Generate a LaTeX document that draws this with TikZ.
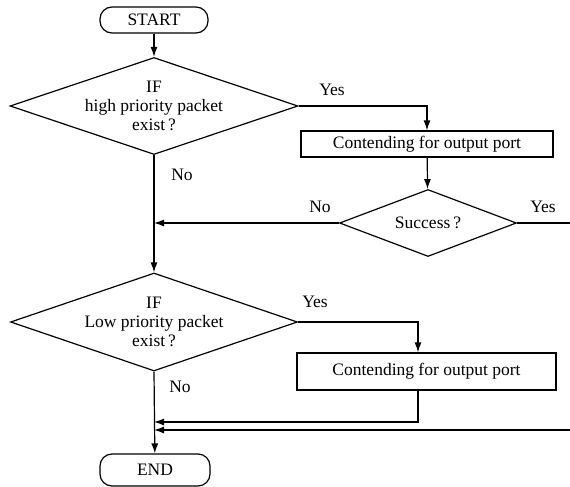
\documentclass[tikz,border=0pt]{standalone}
\usepackage{fontspec}
\setmainfont{Liberation Serif}
\usetikzlibrary{shapes.geometric,arrows.meta}

\begin{document}
\begin{tikzpicture}[x=1pt,y=-1pt,line width=1.2pt,
  every node/.style={font=\fontsize{17.5}{19}\selectfont},
  term/.style={rectangle,draw,rounded corners=12pt,minimum width=#1,minimum height=26pt,inner sep=0pt},
  cond/.style 2 args={diamond,draw,minimum width=#1,minimum height=#2,inner sep=0pt},
  proc/.style 2 args={rectangle,draw,minimum width=#1,minimum height=#2,inner sep=0pt},
  flow/.style={-{Latex[length=10pt,width=7pt]}}]
\useasboundingbox (0,0) rectangle (570,487);
\node[term=108pt] (start) at (154,20) {START};
\node[cond={288pt}{97pt},label={[align=center]center:IF\\high priority packet\\exist\,?}] (hiprio) at (154,106) {};
\node[proc={252pt}{26pt}] (contend1) at (427,144) {Contending for output port};
\node[cond={177pt}{67pt},label={center:Success\,?}] (success) at (428,223) {};
\node[cond={287pt}{98pt},label={[align=center]center:IF\\Low priority packet\\exist\,?}] (loprio) at (154,322) {};
\node[proc={259pt}{37pt}] (contend2) at (426.5,371.5) {Contending for output port};
\node[term=110pt,minimum height=32pt] (end) at (155,470) {END};
\coordinate (out1) at (570,223);
\coordinate (back1) at (154,422);
\coordinate (out2) at (570,430);
\coordinate (back2) at (154,430);
\draw[flow] (start) -- (hiprio);
\draw[flow] (hiprio.east) -| (contend1.north);
\draw[flow] (contend1) -- (success);
\draw[flow] (success.west) -- (success.west -| hiprio.south);
\draw (success.east) -- (out1);
\draw[flow] (hiprio.south) -- (loprio.north);
\draw[flow] (loprio.east) -| ([xshift=-8.5pt]contend2.north);
\draw[flow] ([xshift=-8.5pt]contend2.south) |- (back1);
\draw[flow] (out2) -- (back2);
\draw[flow] (loprio.south) -- (end);
\node (yes1) at (332,90) {Yes};
\node (no1) at (182,175) {No};
\node (no2) at (320,207) {No};
\node (yes2) at (543,207) {Yes};
\node (yes3) at (315,302) {Yes};
\node (no3) at (180,387) {No};
\end{tikzpicture}
\end{document}
